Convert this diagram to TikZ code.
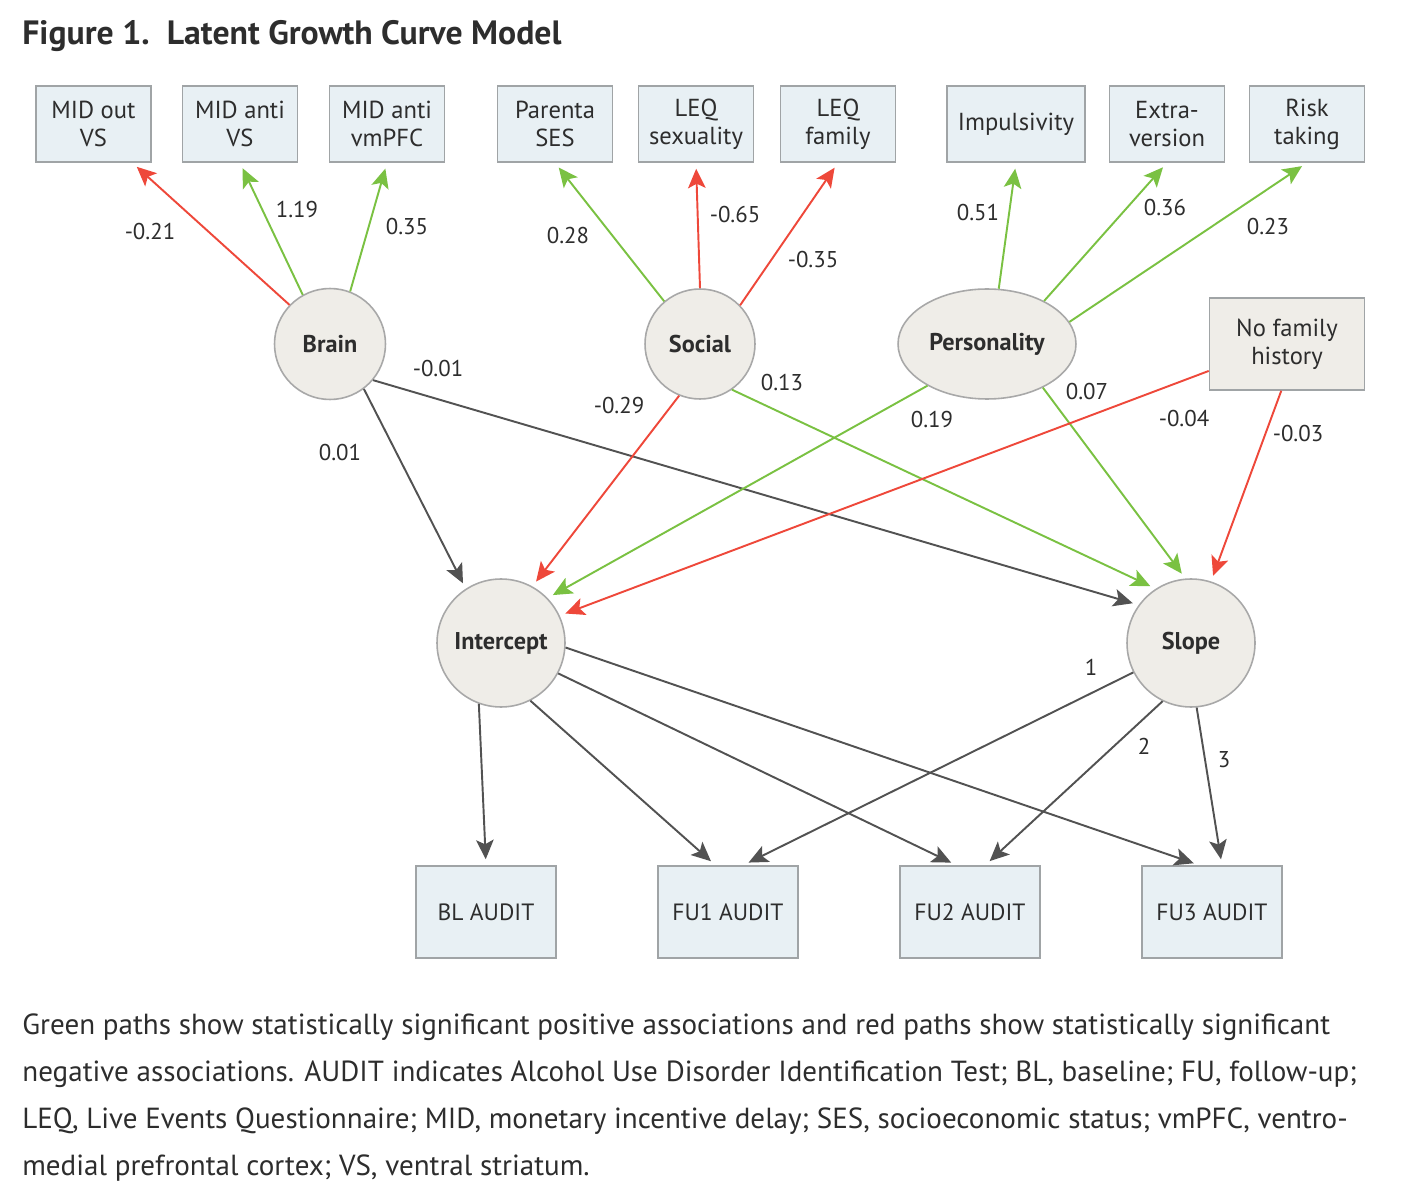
\documentclass[tikz,border=0pt]{standalone}
\usepackage{fontspec}
\setmainfont{PT Sans}
\usetikzlibrary{arrows.meta}
\usetikzlibrary{shapes.geometric}

\definecolor{boxfill}{RGB}{232,240,244}
\definecolor{boxline}{RGB}{160,164,166}
\definecolor{latfill}{RGB}{239,237,232}
\definecolor{latline}{RGB}{168,168,168}
\definecolor{posgreen}{RGB}{122,193,66}
\definecolor{negred}{RGB}{238,72,58}
\definecolor{plain}{RGB}{82,82,82}
\definecolor{ink}{RGB}{45,45,45}

\begin{document}
\begin{tikzpicture}[
  x=0.02cm, y=-0.02cm,
  every node/.style = {text=ink},
  obs/.style = {draw=boxline,fill=boxfill,line width=0.9pt,inner sep=0pt,
    align=center,minimum width=2.3cm,minimum height=1.52cm,
    font=\fontsize{14}{16}\selectfont},
  outcome/.style = {obs,minimum width=2.8cm,minimum height=1.84cm,
    font=\fontsize{13.4}{16}\selectfont},
  latent/.style = {circle,draw=latline,fill=latfill,line width=0.9pt,
    inner sep=0pt,font=\bfseries\fontsize{13.8}{16}\selectfont},
  coef/.style = {font=\fontsize{13}{15}\selectfont,inner sep=0pt},
  link/.style = {line width=1.1pt,shorten >=0.12cm,
    -{Stealth[length=11pt,width=10pt,inset=2.5pt]}},
  plus/.style = {link,draw=posgreen,fill=posgreen},
  minus/.style = {link,draw=negred,fill=negred},
  null/.style = {link,draw=plain,fill=plain}
]
  \useasboundingbox (0,0) rectangle (1406,1202);

  \node[anchor=base west,inner sep=0pt,font=\bfseries\fontsize{19.2}{21}\selectfont]
    (title) at (22,45) {Figure 1.\ \ Latent Growth Curve Model};

  % indicators
  \node[obs] (midout)  at (93.5,124) {MID out\\VS};
  \node[obs] (midvs)   at (240,124)  {MID anti\\VS};
  \node[obs] (midpfc)  at (387,124)  {MID anti\\vmPFC};
  \node[obs] (ses)     at (555,124)  {Parenta\\SES};
  \node[obs] (leqsex)  at (696,124)  {LEQ\\sexuality};
  \node[obs] (leqfam)  at (838,124)  {LEQ\\family};
  \node[obs,minimum width=2.76cm] (impuls) at (1016,124) {Impulsivity};
  \node[obs] (extra)   at (1167,124) {Extra-\\version};
  \node[obs] (risk)    at (1307,124) {Risk\\taking};

  % latent factors
  \node[latent,minimum size=2.22cm] (brain)  at (330,344) {Brain};
  \node[latent,minimum size=2.2cm]  (social) at (700,344) {Social};
  \node[latent,ellipse,minimum width=3.56cm,minimum height=2.2cm]
    (person) at (987,344) {Personality};
  \node[obs,fill=latfill,minimum width=3.1cm,minimum height=1.84cm]
    (nofam) at (1287,344) {No family\\history};

  \node[latent,minimum size=2.56cm] (icept) at (501,643)  {Intercept};
  \node[latent,minimum size=2.56cm] (slope) at (1191,643) {Slope};

  % outcomes
  \node[outcome] (bl)  at (486,912)  {BL AUDIT};
  \node[outcome] (fu1) at (728,912)  {FU1 AUDIT};
  \node[outcome] (fu2) at (970,912)  {FU2 AUDIT};
  \node[outcome] (fu3) at (1212,912) {FU3 AUDIT};

  % loadings
  \draw[minus] (brain.136) -- (midout.-45);
  \draw[plus] (brain.119) -- (midvs.south);
  \draw[plus] (brain.69)  -- (midpfc.south);
  \draw[plus] (social.130) -- (ses.south);
  \draw[minus] (social.90)  -- (leqsex.south);
  \draw[minus] (social.44)  -- (leqfam.south);
  \draw[plus] (person.78) -- (impuls.south);
  \draw[plus] (person.37) -- (extra.south);
  \draw[plus] (person.15) -- (risk.south);

  % paths to growth factors
  \draw[null] (brain.-53)  -- (icept.123);
  \draw[null] (brain.-40)  -- (slope.144);
  \draw[minus] (social.-112) -- (icept.61);
  \draw[plus]  (social.-55)  -- (slope.123);
  \draw[plus]  (person.-145) -- (icept.44);
  \draw[plus]  (person.-38)  -- (slope.95);
  \draw[minus] (nofam.-161)  -- (icept.25);
  \draw[minus] (nofam.-97)   -- (slope.72);

  % growth factors to AUDIT
  \draw[null] (icept.-110) -- (bl.north);
  \draw[null] (icept.-63)  -- (fu1.105);
  \draw[null] (icept.-28)  -- (fu2.106);
  \draw[null] (icept.-4)   -- (fu3.105);
  \draw[null] (slope.-153) -- (fu1.72);
  \draw[null] (slope.-116) -- (fu2.72);
  \draw[null] (slope.-85)  -- (fu3.78);

  % coefficients
  \node[coef] (c1)  at (150,232)  {-0.21};
  \node[coef] (c2)  at (297,210)  {1.19};
  \node[coef] (c3)  at (407,227)  {0.35};
  \node[coef] (c4)  at (568,236)  {0.28};
  \node[coef] (c5)  at (735,215)  {-0.65};
  \node[coef] (c6)  at (813,260)  {-0.35};
  \node[coef] (c7)  at (978,213)  {0.51};
  \node[coef] (c8)  at (1165,208) {0.36};
  \node[coef] (c9)  at (1268,227) {0.23};
  \node[coef] (c10) at (438,369)  {-0.01};
  \node[coef] (c11) at (340,453)  {0.01};
  \node[coef] (c12) at (619,406)  {-0.29};
  \node[coef] (c13) at (782,383)  {0.13};
  \node[coef] (c14) at (932,420)  {0.19};
  \node[coef] (c15) at (1087,392) {0.07};
  \node[coef] (c16) at (1184,419) {-0.04};
  \node[coef] (c17) at (1298,434) {-0.03};
  \node[coef] (t1)  at (1091,667) {1};
  \node[coef] (t2)  at (1144,746) {2};
  \node[coef] (t3)  at (1224,760) {3};

  % caption
  \begin{scope}[every node/.style={anchor=base west,inner sep=0pt,text=ink,
      font=\fontsize{16.55}{18}\selectfont}]
    \node (cap1) at (22,1034) {Green paths show statistically significant positive associations and red paths show statistically significant};
    \node (cap2) at (22,1081) {negative associations. AUDIT indicates Alcohol Use Disorder Identification Test; BL, baseline; FU, follow-up;};
    \node (cap3) at (22,1128) {LEQ, Live Events Questionnaire; MID, monetary incentive delay; SES, socioeconomic status; vmPFC, ventro-};
    \node (cap4) at (22,1175) {medial prefrontal cortex; VS, ventral striatum.};
  \end{scope}
\end{tikzpicture}
\end{document}
